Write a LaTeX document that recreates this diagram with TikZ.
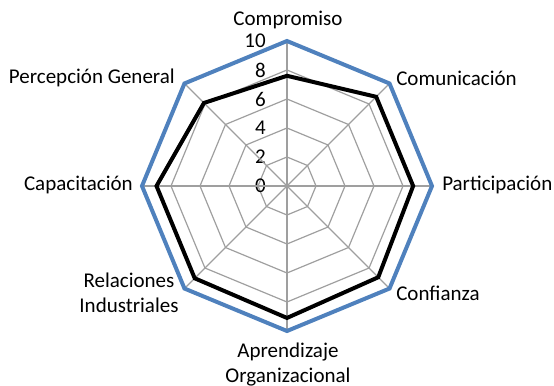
\documentclass[tikz,border=0pt]{standalone}
\usepackage{fontspec}
\setmainfont{Carlito}
\definecolor{serieblue}{RGB}{79,129,189}
\begin{document}
\begin{tikzpicture}[x=0.75pt,y=0.75pt,
                    grid/.style={draw=gray!75, line width=0.9pt},
                    serie/.style={line width=3pt, line join=miter},
                    lbl/.style={font=\fontsize{15.75}{18.75}\selectfont, inner sep=0pt},
                    tick/.style={lbl, anchor=east}]
                    \useasboundingbox (-287,-200) rectangle (267,186);
                    \coordinate (o) at (0,0);
                    % rejilla
                    \foreach \r in {2,4,...,10} {
                        \draw[grid] (90:14.5*\r) \foreach \a in {45,0,...,-225} { -- (\a:14.5*\r) } -- cycle;
                        \node[tick] (t\r) at (-21,14.5*\r) {\r};
                    }
                    \node[tick] (t0) at (-21,0) {0};
                    \foreach \a [count=\i] in {90,45,...,-225} {
                        \coordinate (ax\i) at (\a:145);
                        \draw[grid] (o) -- (ax\i);
                    }
                    % series
                    \draw[serie, black] (90:7.6*14.5) -- (45:8.7*14.5) -- (0:8.7*14.5) -- (-45:8.9*14.5)
                        -- (-90:9.1*14.5) -- (-135:9.0*14.5) -- (180:9.0*14.5) -- (135:8.1*14.5) -- cycle;
                    \draw[serie, serieblue] (ax1) -- (ax2) -- (ax3) -- (ax4) -- (ax5) -- (ax6) -- (ax7) -- (ax8) -- cycle;
                    % etiquetas
                    \node[lbl] (compromiso) at (1,166) {Compromiso};
                    \node[lbl, anchor=west] (comunicacion) at (109,108) {Comunicación};
                    \node[lbl, anchor=west] (participacion) at (155,1) {Participación};
                    \node[lbl, anchor=west] (confianza) at (109,-107) {Confianza};
                    \node[lbl, align=center] (aprendizaje) at (1,-179) {Aprendizaje\\Organizacional};
                    \node[lbl, align=center] (relaciones) at (-158,-107) {Relaciones\\Industriales};
                    \node[lbl, anchor=east] (capacitacion) at (-154,1) {Capacitación};
                    \node[lbl, anchor=east] (percepcion) at (-112,108) {Percepción General};
\end{tikzpicture}
\end{document}
